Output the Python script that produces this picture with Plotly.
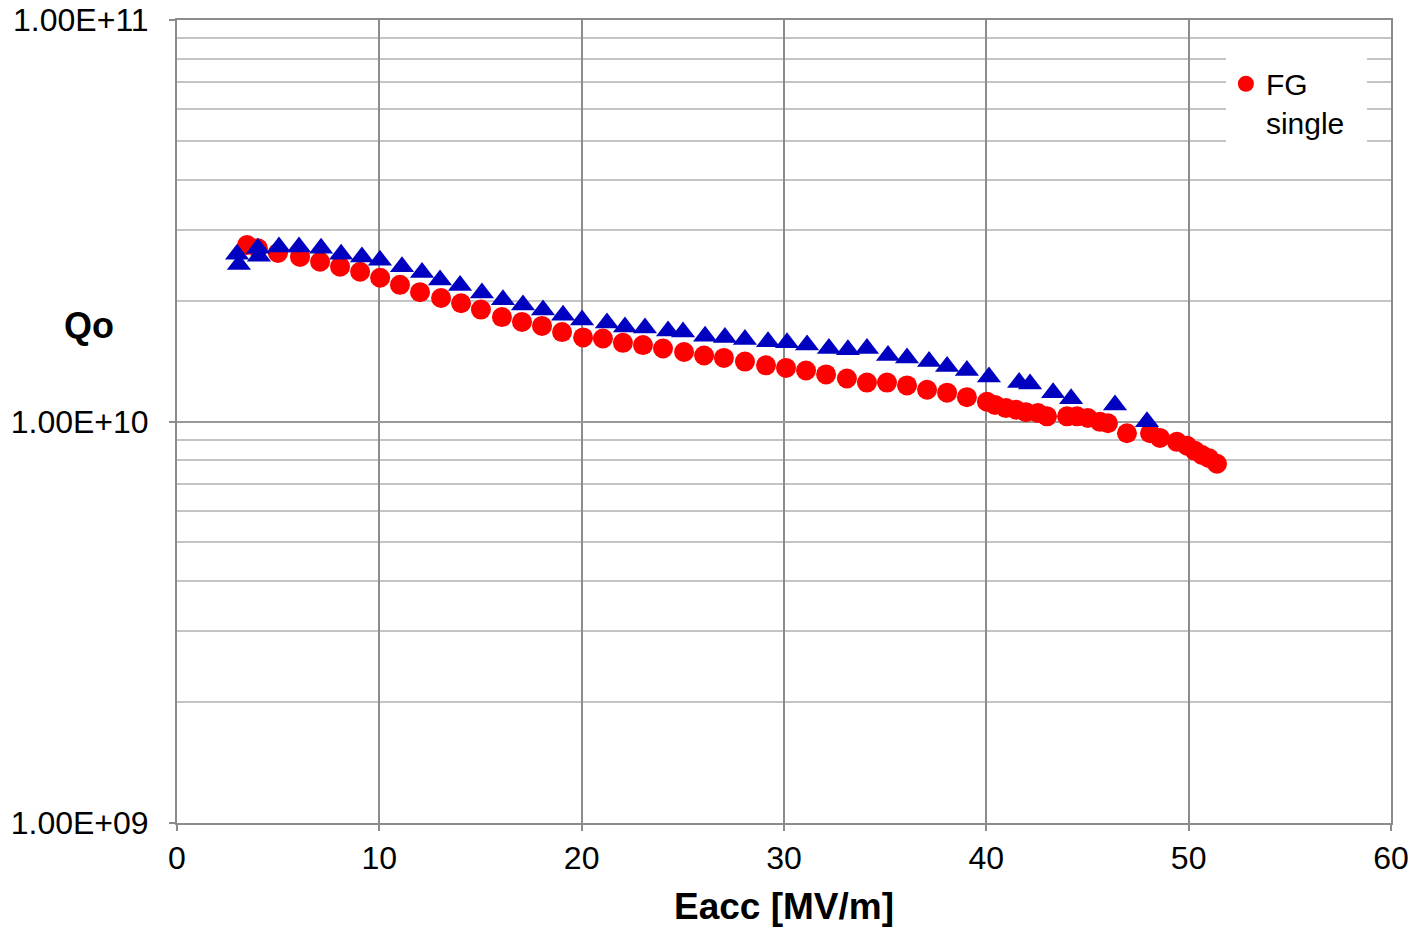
import plotly.graph_objects as go

# Red circles: FG single
fg_x = [3.46, 4.00, 4.99, 6.08, 7.07, 8.06, 9.05, 10.04, 11.02, 12.01, 13.05, 14.04, 15.02, 16.06,
        17.05, 18.04, 19.03, 20.07, 21.05, 22.04, 23.03, 24.02, 25.06, 26.05, 27.03, 28.07, 29.11,
        30.10, 31.09, 32.08, 33.11, 34.10, 35.09, 36.08, 37.07, 38.06, 39.04, 40.03, 40.43, 40.97,
        41.47, 41.96, 42.55, 43.00, 43.99, 44.48, 45.02, 45.62, 46.01, 46.95, 48.09, 48.58, 49.42,
        49.92, 50.31, 50.66, 51.01, 51.40]
fg_q = [2.75, 2.70, 2.63, 2.57, 2.50, 2.43, 2.36, 2.28, 2.19, 2.10, 2.03, 1.97, 1.90, 1.82,
        1.77, 1.73, 1.67, 1.62, 1.61, 1.57, 1.55, 1.52, 1.49, 1.46, 1.44, 1.41, 1.38,
        1.36, 1.34, 1.31, 1.28, 1.25, 1.25, 1.23, 1.20, 1.18, 1.15, 1.12, 1.10, 1.08,
        1.07, 1.055, 1.05, 1.03, 1.03, 1.03, 1.02, 0.998, 0.99, 0.935, 0.935, 0.91, 0.89,
        0.87, 0.845, 0.825, 0.81, 0.785]

# Blue triangles: second series
b_x = [2.97, 3.06, 4.00, 4.05, 5.04, 6.03, 7.12, 8.11, 9.14, 10.03, 11.12, 12.11, 13.00, 13.99,
       15.07, 16.11, 17.10, 18.09, 19.08, 20.02, 21.25, 22.14, 23.13, 24.27, 25.01, 26.10, 27.08,
       28.07, 29.21, 30.15, 31.14, 32.22, 33.16, 34.10, 35.14, 36.08, 37.17, 38.06, 39.04, 40.13,
       41.62, 42.16, 43.30, 44.19, 46.36, 47.94]
b_q = [2.61, 2.46, 2.70, 2.58, 2.72, 2.72, 2.70, 2.61, 2.57, 2.52, 2.43, 2.35, 2.25, 2.18,
       2.09, 2.01, 1.95, 1.895, 1.84, 1.79, 1.76, 1.72, 1.71, 1.68, 1.67, 1.63, 1.62,
       1.60, 1.58, 1.57, 1.55, 1.52, 1.51, 1.52, 1.46, 1.44, 1.41, 1.37, 1.34, 1.29,
       1.25, 1.24, 1.18, 1.14, 1.10, 0.998]

x_ticks = [0, 10, 20, 30, 40, 50, 60]
y_ticks = [1e9, 1e10, 1e11]
y_ticktext = ["1.00E+09", "1.00E+10", "1.00E+11"]
y_minor = [m * 10 ** e for e in (9, 10) for m in range(2, 10)]

FONT = "Liberation Sans, Arial, sans-serif"
AXIS_GRAY = "#8C8C8C"

fig = go.Figure()
fig.add_trace(go.Scatter(
    x=fg_x, y=[v * 1e10 for v in fg_q], mode="markers", name="FG<br>single&nbsp;&nbsp;",
    marker=dict(symbol="circle", size=20, color="#FF0000", line=dict(width=0)),
))
fig.add_trace(go.Scatter(
    x=b_x, y=[v * 1e10 for v in b_q], mode="markers", showlegend=False,
    marker=dict(symbol="triangle-up", size=21, color="#0000C0", line=dict(width=0)),
))

fig.update_layout(
    width=1414, height=928,
    margin=dict(l=177, r=23, t=20, b=105),
    paper_bgcolor="white", plot_bgcolor="white",
    font=dict(family=FONT, size=32, color="black"),
    showlegend=True,
    legend=dict(x=0.864, y=0.953, xanchor="left", yanchor="top",
                bgcolor="white", borderwidth=0, valign="top",
                font=dict(size=30, family=FONT), itemsizing="trace"),
    xaxis=dict(range=[0, 60], tickvals=x_ticks, showgrid=True, gridcolor=AXIS_GRAY, gridwidth=2,
               showline=True, mirror=True, linecolor=AXIS_GRAY, linewidth=2, ticks="outside",
               ticklen=6, tickcolor=AXIS_GRAY, tickwidth=2, zeroline=False, automargin=False,
               tickfont=dict(size=32, family=FONT),
               title=dict(text="<b>Eacc [MV/m]</b>", font=dict(size=37, family=FONT), standoff=18)),
    yaxis=dict(type="log", range=[9, 11], tickvals=y_ticks, ticktext=y_ticktext,
               showgrid=True, gridcolor="#9A9A9A", gridwidth=2,
               showline=True, mirror=True, linecolor=AXIS_GRAY, linewidth=2, ticks="outside",
               ticklen=6, tickcolor=AXIS_GRAY, tickwidth=2, zeroline=False, automargin=False,
               ticklabelstandoff=14,
               tickfont=dict(size=32, family=FONT),
               minor=dict(tickmode="array", tickvals=y_minor, showgrid=True,
                          gridcolor="#C4C4C4", gridwidth=2, ticks="")),
)
fig.add_annotation(text="<b>Qo</b>", xref="paper", yref="paper", x=-0.050, y=0.619,
                   xanchor="right", yanchor="middle", showarrow=False,
                   font=dict(size=36, family=FONT, color="black"))

fig.write_html("out.html")
